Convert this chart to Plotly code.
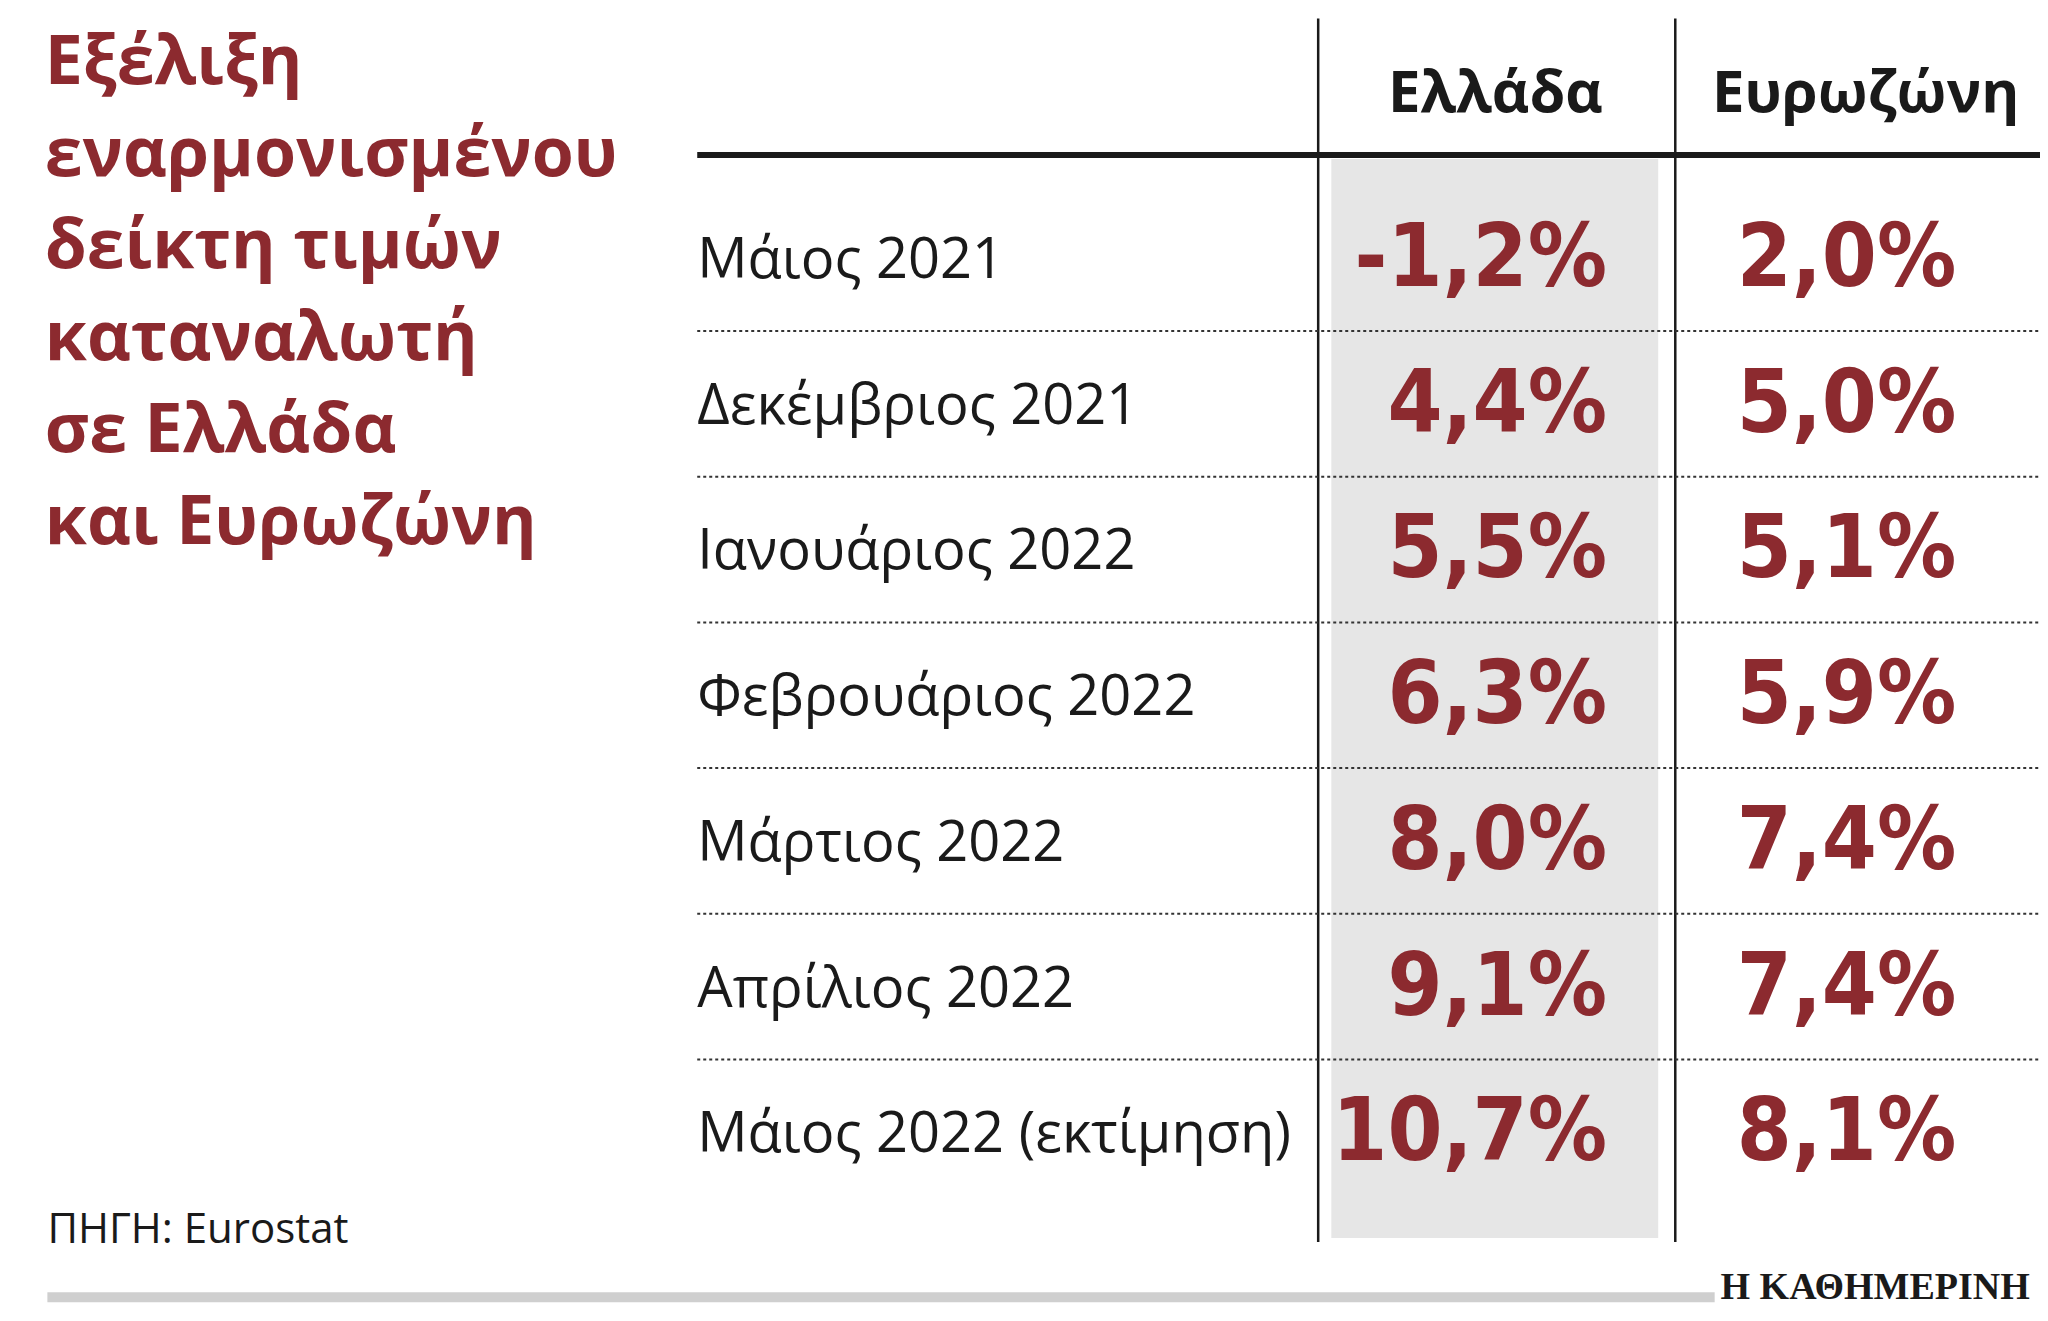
import plotly.graph_objects as go

title_lines = ["Εξέλιξη", "εναρμονισμένου", "δείκτη τιμών", "καταναλωτή", "σε Ελλάδα", "και Ευρωζώνη"]
headers = ["Ελλάδα", "Ευρωζώνη"]
months = ["Μάιος 2021", "Δεκέμβριος 2021", "Ιανουάριος 2022", "Φεβρουάριος 2022",
          "Μάρτιος 2022", "Απρίλιος 2022", "Μάιος 2022 (εκτίμηση)"]
greece = [-1.2, 4.4, 5.5, 6.3, 8.0, 9.1, 10.7]
eurozone = [2.0, 5.0, 5.1, 5.9, 7.4, 7.4, 8.1]
source = "ΠΗΓΗ: Eurostat"
brand = "Η ΚΑΘΗΜΕΡΙΝΗ"

s = 2048 / 1560
RED = "#8c2a2f"
fmt = lambda v: f"{v:.1f}%".replace(".", ",")

fig = go.Figure()
fig.add_shape(type="rect", x0=1008*s, x1=1257*s, y0=115*s, y1=937*s, fillcolor="#e6e6e6", line_width=0, layer="below")
fig.add_shape(type="line", x0=525*s, x1=1557*s, y0=112*s, y1=112*s, line=dict(color="#1a1a1a", width=6))
for x in (998, 1270):
    fig.add_shape(type="line", x0=x*s, x1=x*s, y0=8*s, y1=940*s, line=dict(color="#1a1a1a", width=2.5))
row_y = [195 + 111*i for i in range(len(months))]
for y in row_y[:-1]:
    fig.add_shape(type="line", x0=525*s, x1=1557*s, y0=(y+51)*s, y1=(y+51)*s, line=dict(color="#333", width=2, dash="dot"))
fig.add_shape(type="line", x0=30*s, x1=1300*s, y0=982*s, y1=982*s, line=dict(color="#cfcfcf", width=10))

fig.add_trace(go.Scatter(x=[28*s]*len(title_lines), y=[(45+70*i)*s for i in range(len(title_lines))],
    text=title_lines, mode="text", textposition="middle right",
    textfont=dict(family="Open Sans", size=68, color=RED, weight="bold")))
fig.add_trace(go.Scatter(x=[1133*s, 1415*s], y=[68*s]*2, text=headers, mode="text", textposition="middle center",
    textfont=dict(family="Open Sans", size=58, color="#1a1a1a", weight="bold")))
fig.add_trace(go.Scatter(x=[525*s]*len(months), y=[y*s for y in row_y], text=months, mode="text",
    textposition="middle right", textfont=dict(family="Open Sans", size=56, color="#1a1a1a")))
fig.add_trace(go.Scatter(x=[1218*s]*len(greece), y=[y*s for y in row_y], text=[fmt(v) for v in greece], mode="text",
    textposition="middle left", textfont=dict(family="DejaVu Sans Condensed", size=88, color=RED, weight="bold")))
fig.add_trace(go.Scatter(x=[1484*s]*len(eurozone), y=[y*s for y in row_y], text=[fmt(v) for v in eurozone], mode="text",
    textposition="middle left", textfont=dict(family="DejaVu Sans Condensed", size=88, color=RED, weight="bold")))
fig.add_trace(go.Scatter(x=[30*s], y=[933*s], text=[source], mode="text", textposition="middle right",
    textfont=dict(family="Open Sans", size=42, color="#1a1a1a")))
fig.add_trace(go.Scatter(x=[1540*s], y=[976*s], text=[brand], mode="text", textposition="middle left",
    textfont=dict(family="Liberation Serif", size=38, color="#1a1a1a", weight="bold")))

fig.update_layout(width=2048, height=1321, margin=dict(l=0, r=0, t=0, b=0), showlegend=False,
    plot_bgcolor="white", paper_bgcolor="white",
    xaxis=dict(range=[0, 2048], visible=False, fixedrange=True),
    yaxis=dict(range=[1321, 0], visible=False, fixedrange=True))
fig.write_html("out.html")
